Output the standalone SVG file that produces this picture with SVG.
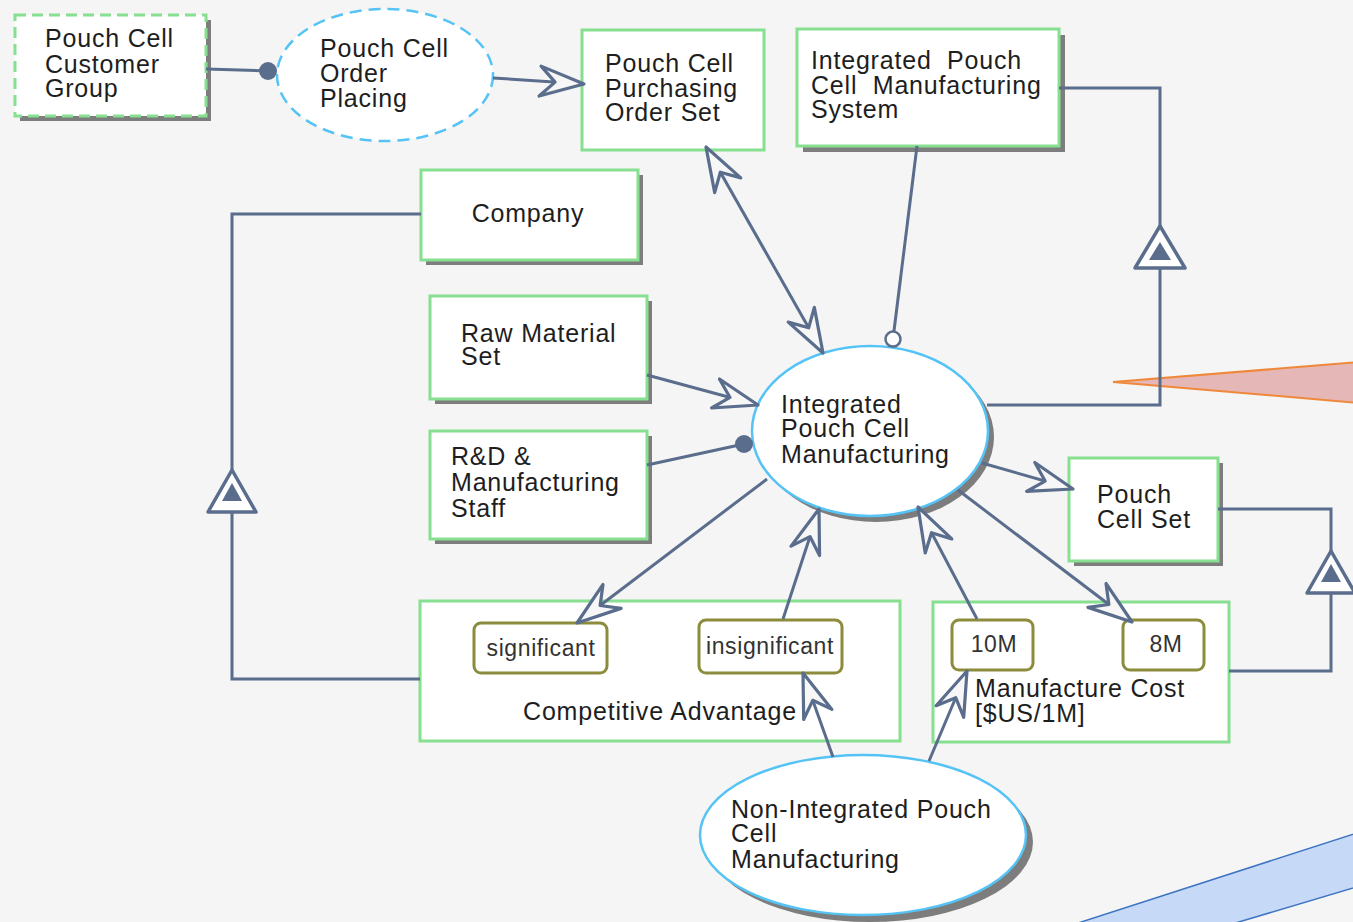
<svg xmlns="http://www.w3.org/2000/svg" width="1353" height="922" viewBox="0 0 1353 922">
  <style>
    .bg { fill: #f5f5f5; }
    .obj { fill: #ffffff; stroke: #86e08f; stroke-width: 3; }
    .objd { fill: #ffffff; stroke: #86e08f; stroke-width: 3; stroke-dasharray: 11 6; }
    .proc { fill: #ffffff; stroke: #55c3f5; stroke-width: 2.5; }
    .procd { fill: #ffffff; stroke: #55c3f5; stroke-width: 2.5; stroke-dasharray: 12 7; }
    .shadow { fill: #7d7d7d; }
    .state { fill: #ffffff; stroke: #8c8c3c; stroke-width: 3; }
    .lbl { font-family: "Liberation Sans", Arial, sans-serif; font-size: 25px; letter-spacing: 0.8px; fill: #1e1e1e; }
    .slbl { font-family: "Liberation Sans", Arial, sans-serif; font-size: 23px; letter-spacing: 0.6px; fill: #333333; }
    .link { fill: none; stroke: #5a6d8c; stroke-width: 3; }
    .tri { fill: #ffffff; stroke: #5a6d8c; stroke-width: 3.5; stroke-linejoin: round; }
    .trii { fill: #5a6d8c; }
  </style>
  <defs>
    <!-- open barbed arrowhead used by consumption/result/effect links -->
    <marker id="arrow" viewBox="-48 -19 52 38" refX="0" refY="0" markerWidth="52" markerHeight="38" markerUnits="userSpaceOnUse" orient="auto-start-reverse">
      <path d="M0,0 L-44,-15 L-29,0 L-44,15 Z" fill="#f7f7f7" stroke="#5a6d8c" stroke-width="3.2" stroke-linejoin="round"/>
    </marker>
    <!-- filled dot for agent links -->
    <marker id="dot" viewBox="-10 -10 20 20" refX="0" refY="0" markerWidth="20" markerHeight="20" markerUnits="userSpaceOnUse">
      <circle cx="0" cy="0" r="9" fill="#5a6d8c"/>
    </marker>
    <!-- hollow circle for instrument links -->
    <marker id="ring" viewBox="-10 -10 20 20" refX="8" refY="0" markerWidth="20" markerHeight="20" markerUnits="userSpaceOnUse" orient="auto">
      <circle cx="0" cy="0" r="7.5" fill="#ffffff" stroke="#5a6d8c" stroke-width="2.5"/>
    </marker>
  </defs>

  <rect class="bg" x="0" y="0" width="1353" height="922"/>

  <!-- callout pointers at the right edge -->
  <g id="callout-orange">
    <polygon points="1113,382 1360,362 1360,403" fill="#e5b7b7" stroke="#f0883a" stroke-width="2"/>
  </g>
  <g id="callout-blue">
    <polygon points="1075,924 1360,832 1360,886 1232,924" fill="#c6d9f7" stroke="#3e74c4" stroke-width="1.5"/>
  </g>

  <!-- objects and processes -->
  <g id="customer-group">
    <rect class="shadow" x="20" y="20" width="191" height="101"/>
    <rect class="objd" x="15" y="15" width="191" height="101"/>
    <text class="lbl" x="45" y="47">Pouch Cell</text>
    <text class="lbl" x="45" y="73">Customer</text>
    <text class="lbl" x="45" y="97">Group</text>
  </g>

  <g id="order-placing">
    <ellipse class="procd" cx="385" cy="75" rx="108" ry="66"/>
    <text class="lbl" x="320" y="57">Pouch Cell</text>
    <text class="lbl" x="320" y="82">Order</text>
    <text class="lbl" x="320" y="107">Placing</text>
  </g>

  <g id="purchasing-order-set">
    <rect class="obj" x="582" y="30" width="182" height="120"/>
    <text class="lbl" x="605" y="72">Pouch Cell</text>
    <text class="lbl" x="605" y="97">Purchasing</text>
    <text class="lbl" x="605" y="121">Order Set</text>
  </g>

  <g id="manufacturing-system">
    <rect class="shadow" x="803" y="35" width="262" height="117"/>
    <rect class="obj" x="797" y="29" width="262" height="117"/>
    <text class="lbl" x="811" y="69" xml:space="preserve">Integrated  Pouch</text>
    <text class="lbl" x="811" y="94" xml:space="preserve">Cell  Manufacturing</text>
    <text class="lbl" x="811" y="118">System</text>
  </g>

  <g id="company">
    <rect class="shadow" x="426" y="175" width="217" height="90"/>
    <rect class="obj" x="421" y="170" width="217" height="90"/>
    <text class="lbl" x="528" y="222" text-anchor="middle">Company</text>
  </g>

  <g id="raw-material-set">
    <rect class="shadow" x="435" y="301" width="217" height="103"/>
    <rect class="obj" x="430" y="296" width="217" height="103"/>
    <text class="lbl" x="461" y="342">Raw Material</text>
    <text class="lbl" x="461" y="365">Set</text>
  </g>

  <g id="staff">
    <rect class="shadow" x="435" y="436" width="217" height="108"/>
    <rect class="obj" x="430" y="431" width="217" height="108"/>
    <text class="lbl" x="451" y="465">R&amp;D &amp;</text>
    <text class="lbl" x="451" y="491">Manufacturing</text>
    <text class="lbl" x="451" y="517">Staff</text>
  </g>

  <g id="integrated-manufacturing">
    <ellipse class="shadow" cx="876" cy="437" rx="118" ry="85"/>
    <ellipse class="proc" cx="870" cy="431" rx="118" ry="85"/>
    <text class="lbl" x="781" y="413">Integrated</text>
    <text class="lbl" x="781" y="437">Pouch Cell</text>
    <text class="lbl" x="781" y="463">Manufacturing</text>
  </g>

  <g id="pouch-cell-set">
    <rect class="shadow" x="1074" y="463" width="149" height="103"/>
    <rect class="obj" x="1069" y="458" width="149" height="103"/>
    <text class="lbl" x="1097" y="503">Pouch</text>
    <text class="lbl" x="1097" y="528">Cell Set</text>
  </g>

  <g id="competitive-advantage">
    <rect class="obj" x="420" y="601" width="480" height="140"/>
    <rect class="state" x="474" y="623" width="133" height="50" rx="7"/>
    <text class="slbl" x="541" y="656" text-anchor="middle">significant</text>
    <rect class="state" x="699" y="620" width="143" height="53" rx="7"/>
    <text class="slbl" x="770" y="654" text-anchor="middle">insignificant</text>
    <text class="lbl" x="660" y="720" text-anchor="middle">Competitive Advantage</text>
  </g>

  <g id="manufacture-cost">
    <rect class="obj" x="933" y="602" width="296" height="140"/>
    <rect class="state" x="952" y="620" width="81" height="50" rx="7"/>
    <text class="slbl" x="994" y="652" text-anchor="middle">10M</text>
    <rect class="state" x="1123" y="620" width="81" height="50" rx="7"/>
    <text class="slbl" x="1166" y="652" text-anchor="middle">8M</text>
    <text class="lbl" x="975" y="697">Manufacture Cost</text>
    <text class="lbl" x="975" y="722">[$US/1M]</text>
  </g>

  <g id="non-integrated-manufacturing">
    <ellipse class="shadow" cx="870" cy="842" rx="163" ry="80"/>
    <ellipse class="proc" cx="863" cy="835" rx="163" ry="80"/>
    <text class="lbl" x="731" y="818">Non-Integrated Pouch</text>
    <text class="lbl" x="731" y="842">Cell</text>
    <text class="lbl" x="731" y="868">Manufacturing</text>
  </g>

  <!-- connectors -->
  <g id="connectors">
    <!-- agent link: customer group to order placing -->
    <line class="link" x1="206" y1="69" x2="268" y2="71" marker-end="url(#dot)"/>
    <!-- result: order placing yields purchasing order set -->
    <line class="link" x1="493" y1="78" x2="584" y2="84" marker-end="url(#arrow)"/>
    <!-- effect: purchasing order set <-> manufacturing -->
    <line class="link" x1="706" y1="147" x2="823" y2="353" marker-start="url(#arrow)" marker-end="url(#arrow)"/>
    <!-- instrument: manufacturing system -->
    <line class="link" x1="917" y1="146" x2="892" y2="347" marker-end="url(#ring)"/>
    <!-- consumption: raw material set -->
    <line class="link" x1="647" y1="375" x2="758" y2="405" marker-end="url(#arrow)"/>
    <!-- agent: R&D staff -->
    <line class="link" x1="647" y1="465" x2="744" y2="444" marker-end="url(#dot)"/>
    <!-- result: significant advantage -->
    <line class="link" x1="767" y1="479" x2="577" y2="623" marker-end="url(#arrow)"/>
    <!-- consumption: insignificant advantage -->
    <line class="link" x1="783" y1="619" x2="819" y2="509" marker-end="url(#arrow)"/>
    <!-- consumption: 10M cost -->
    <line class="link" x1="977" y1="619" x2="918" y2="507" marker-end="url(#arrow)"/>
    <!-- result: 8M cost -->
    <line class="link" x1="958" y1="490" x2="1132" y2="622" marker-end="url(#arrow)"/>
    <!-- result: pouch cell set -->
    <line class="link" x1="982" y1="463" x2="1073" y2="489" marker-end="url(#arrow)"/>
    <!-- non-integrated process results -->
    <line class="link" x1="833" y1="757" x2="803" y2="673" marker-end="url(#arrow)"/>
    <line class="link" x1="929" y1="761" x2="967" y2="671" marker-end="url(#arrow)"/>

    <!-- exhibition: manufacturing system exhibits process -->
    <polyline class="link" points="1059,88 1160,88 1160,226"/>
    <polyline class="link" points="1160,268 1160,405 987,405"/>
    <polygon class="tri" points="1160,226 1185,268 1135,268"/>
    <polygon class="trii" points="1160,242 1171,260 1149,260"/>

    <!-- exhibition: company exhibits competitive advantage -->
    <polyline class="link" points="421,214 232,214 232,470"/>
    <polyline class="link" points="232,512 232,679 420,679"/>
    <polygon class="tri" points="232,470 256,512 208,512"/>
    <polygon class="trii" points="232,483 242,501 222,501"/>

    <!-- exhibition: pouch cell set exhibits manufacture cost -->
    <polyline class="link" points="1218,509 1331,509 1331,551"/>
    <polyline class="link" points="1331,593 1331,671 1229,671"/>
    <polygon class="tri" points="1331,551 1355,593 1307,593"/>
    <polygon class="trii" points="1331,564 1341,582 1321,582"/>
  </g>
</svg>
